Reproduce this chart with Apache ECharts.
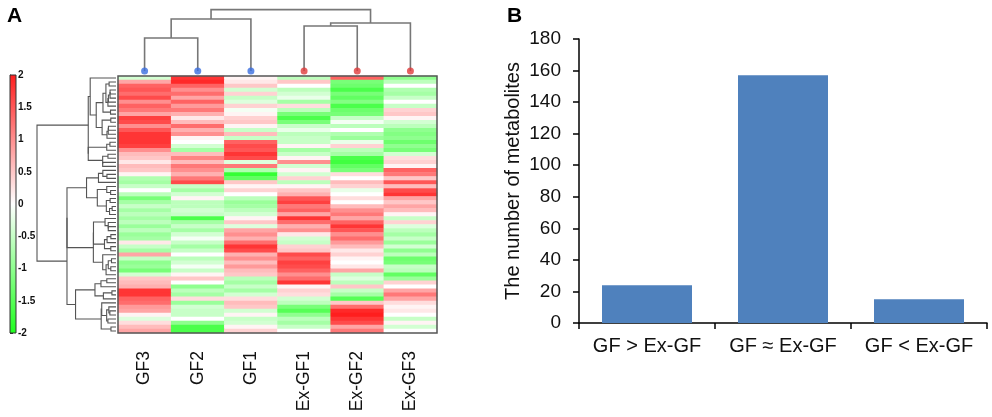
<!DOCTYPE html>
<html>
<head>
    <meta charset="UTF-8">
    <title>Metabolite heatmap and counts</title>
    <script src="https://cdn.jsdelivr.net/npm/echarts@6/dist/echarts.min.js"></script>
    <style>
        html, body { margin: 0; padding: 0; background: #fff; }
        #main { width: 992px; height: 417px; }
    </style>
</head>
<body>
    <div id="main"></div>
    <script>
        // ---- panel A: heatmap columns and clustering ----
        var colNames = ['GF3', 'GF2', 'GF1', 'Ex-GF1', 'Ex-GF2', 'Ex-GF3'];
        var colGroup = [0, 0, 0, 1, 1, 1];          // 0 = GF, 1 = Ex-GF
        var groupColors = ['#3a6ee0', '#e03b3b'];
        // column linkage: [childA, childB, height], ids >= 6 are earlier merges
        var colLinkage = [[0, 1, 33], [3, 4, 45], [6, 2, 52], [7, 5, 48], [8, 9, 61.4]];
        var colorRange = [-2, 2];

        // z-scores per sample, rows top to bottom
        var gf3 = [-0.4, 0.8, 1.4, 1.5, 1.3, 1.6, 1.0, 1.4, 1.2, 0.8, 1.7, 1.6, 1.0, 1.5, 1.8, 1.8,
            1.8, 1.7, 1.0, 0.6, 0.5, 0.2, 0.6, 0.5, 0.1, -0.7, -0.8, -0.5, 0, -0.6, -1.2, -0.8,
            -0.5, -0.8, -0.6, -0.8, -0.6, -0.9, -0.6, -0.9, -0.8, 0.2, -0.5, -0.8, 0.8, -0.5, -1.0, -0.9,
            -1.2, -0.4, 0.5, 0.6, 0.7, 1.8, 1.8, 1.4, 1.3, 0.9, 0.8, 0.1, -0.3, 0.3, 0.6, 0.8];
        var gf2 = [1.8, 1.9, 1.4, 1.0, 1.3, 0.8, 1.4, 0.9, 1.2, 0.7, 0.2, 0.6, 1.3, 0.7, 1.0, 0.1,
            0, -0.4, -0.8, 0.6, 1.1, 0.6, 1.2, 1.0, 0.7, 1.2, 1.6, -0.5, -0.8, -0.4, 0.1, -0.6,
            -0.6, -0.4, -0.5, -1.6, -0.8, -0.5, -0.8, -0.4, -0.1, -0.5, -0.8, -0.5, 0, -0.6, -0.4, -0.1,
            -0.5, 0.1, 0.5, 0, -1.0, -0.6, -0.8, 0.3, -0.9, -0.4, -0.5, -0.5, 0, -1.0, -1.6, -1.6];
        var gf1 = [0.1, 0.2, 0.5, -0.4, 0.4, -0.5, -0.3, 0.4, -0.1, 0.1, 0.4, 0.5, 0.1, -0.5, 0.6, -0.5,
            1.4, 1.6, 1.5, 1.8, 1.6, -0.3, 1.2, -0.7, -1.8, -1.4, 0.5, 0.1, 0.4, 0, -0.6, -0.9,
            -0.8, -0.6, -0.4, 0.1, 0.5, -0.3, 0.8, 1.0, 0.7, 1.3, 1.8, 1.6, 0.7, 1.0, 0.6, 0.9,
            0.6, 0.5, -0.6, -0.8, -0.5, -0.8, -0.4, 0.3, 0.6, 0.5, -0.4, 0.1, -0.5, -0.4, 0.1, 0.4];
        var exgf1 = [-0.6, 0.5, 0, -0.6, -0.4, -0.2, -0.8, 0.3, -0.6, -1.2, -1.6, -1.2, -0.5, -0.2, -0.6, -0.5,
            -0.5, 0.1, -0.8, -0.5, 0.1, 1.0, -0.4, 0.1, -0.4, 0.4, -0.6, 0.1, 0.5, 0.7, 1.5, 1.7,
            1.2, 1.4, 0.8, 1.8, 1.3, 0.7, 1.0, 0.2, -0.4, -0.5, 0.4, 0.5, 1.6, 1.4, 1.7, 1.6,
            1.4, 1.0, 1.3, 1.8, 0.1, 0.4, 0.3, -0.4, -0.6, -1.2, -1.5, -1.0, -0.6, -0.8, -0.5, 0];
        var exgf2 = [1.4, -1.2, -1.3, -1.6, -1.2, -1.4, -1.1, -1.6, -1.3, -1.2, -0.5, -0.1, -0.6, 0, -0.7, -0.9,
            -0.2, 0.4, -0.6, -0.8, -1.6, -1.7, -1.4, -1.2, 0.3, 0, 0.6, 0.4, -0.2, 0, 0.3, 0,
            0.6, 1.0, 1.2, 0.8, 1.4, 1.8, 1.5, 1.0, 1.3, 0.9, 0.6, 0.2, 0.4, 0.1, 0, 0.2,
            0.8, -0.5, -0.3, -0.6, 0.5, -0.5, -0.8, -1.5, 0.5, 1.3, 1.9, 2.0, 1.8, 1.6, 0.8, 1.2];
        var exgf3 = [-1.0, -0.6, 0, -0.7, -0.8, -0.5, 0, -0.5, 0.4, 0.5, 0.1, -0.4, -0.6, -1.0, -1.1, -1.0,
            -1.3, -1.0, -1.2, -0.4, 0.3, 0.4, 0.1, 1.4, 1.2, 0.5, 1.5, 0.6, 1.6, 1.8, 0.8, 0.5,
            0.8, 0.6, 0.1, -0.5, 0.4, -0.3, -0.6, -0.8, -0.5, -0.9, -0.4, -1.0, -0.6, -1.3, -1.2, -0.5,
            -0.6, -1.4, -0.9, 0.4, 0, 0.8, 1.2, 0.8, 0.3, 0.1, 0.2, 0, -0.5, 0.1, -0.4, 0];

        // ---- panel B: counts ----
        var barCats = ['GF > Ex-GF', 'GF \u2248 Ex-GF', 'GF < Ex-GF'];
        var barCounts = [24, 157, 15];
        var barTicks = { min: 0, max: 180, interval: 20 };

        var FONT = 'Liberation Sans, Arial, sans-serif';
        var cols = [gf3, gf2, gf1, exgf1, exgf2, exgf3];
        var nRows = gf3.length;
        var rowIds = gf3.map(function (v, i) { return String(i); });

        // heatmap cells
        var heatData = [];
        for (var r = 0; r < nRows; r++) {
            for (var c = 0; c < cols.length; c++) {
                heatData.push([c, r, cols[c][r]]);
            }
        }

        // column dendrogram segments from the linkage table
        var colNodes = colNames.map(function (n, i) { return { x: i + 0.5, h: 0 }; });
        var colSegs = colLinkage.map(function (l) {
            var a = colNodes[l[0]], b = colNodes[l[1]];
            colNodes.push({ x: (a.x + b.x) / 2, h: l[2] });
            return [a.x, a.h, b.x, b.h, l[2]];
        });

        // row dendrogram: Ward clustering restricted to neighbouring rows
        function rowClusters() {
            var cl = [];
            for (var i = 0; i < nRows; i++) {
                cl.push({ n: 1, c: cols.map(function (col) { return col[i]; }), y: i + 0.5, h: 0 });
            }
            var segs = [];
            while (cl.length > 1) {
                var best = 0, bd = Infinity;
                for (var j = 0; j < cl.length - 1; j++) {
                    var a = cl[j], b = cl[j + 1], s = 0;
                    for (var k = 0; k < a.c.length; k++) { var d = a.c[k] - b.c[k]; s += d * d; }
                    var w = Math.sqrt(2 * a.n * b.n / (a.n + b.n) * s);
                    if (w < bd) { bd = w; best = j; }
                }
                var A = cl[best], B = cl[best + 1];
                var h = Math.max(bd, A.h, B.h);
                segs.push([A.h, A.y, B.h, B.y, h]);
                var n = A.n + B.n;
                cl.splice(best, 2, {
                    n: n,
                    c: A.c.map(function (x, k) { return (x * A.n + B.c[k] * B.n) / n; }),
                    y: (A.y + B.y) / 2,
                    h: h
                });
            }
            return segs;
        }
        var rowSegs = rowClusters();

        var chart = echarts.init(document.getElementById('main'));
        var option = {
            backgroundColor: '#fff',
            animation: false,
            title: [
                { text: 'A', left: 7, top: 6, padding: 0, textStyle: { fontFamily: FONT, fontSize: 21, fontWeight: 'bold', color: '#000' } },
                { text: 'B', left: 507, top: 6, padding: 0, textStyle: { fontFamily: FONT, fontSize: 21, fontWeight: 'bold', color: '#000' } }
            ],
            visualMap: {
                type: 'continuous',
                show: false,
                min: colorRange[0],
                max: colorRange[1],
                seriesIndex: 0,
                dimension: 2,
                inRange: { color: ['#1eff1e', '#ffffff', '#ff1e1e'] }
            },
            grid: [
                { left: 118, width: 319, top: 76, height: 257, show: true, z: 10, borderColor: '#555', borderWidth: 1.5, backgroundColor: 'transparent' },
                { left: 118, width: 319, top: 5, height: 66 },
                { left: 37, width: 79, top: 76, height: 257 },
                { left: 10, width: 6, top: 75, height: 258 },
                { left: 579, right: 5, top: 39, height: 284 }
            ],
            xAxis: [
                {
                    gridIndex: 0, type: 'category', data: colNames,
                    axisLine: { show: false }, axisTick: { show: false },
                    axisLabel: { rotate: 90, margin: 18, fontSize: 17.5, fontFamily: FONT, color: '#111' }
                },
                { gridIndex: 1, type: 'value', min: 0, max: colNames.length, show: false },
                { gridIndex: 2, type: 'value', min: 0, max: 'dataMax', inverse: true, show: false },
                { gridIndex: 3, type: 'value', min: 0, max: 1, show: false },
                {
                    gridIndex: 4, type: 'category', data: barCats,
                    axisLine: { lineStyle: { color: '#000', width: 1.5 } },
                    axisTick: { show: true, length: 6, lineStyle: { color: '#000', width: 1.5 } },
                    axisLabel: { interval: 0, hideOverlap: false, margin: 13, fontSize: 20, fontFamily: FONT, color: '#111' }
                }
            ],
            yAxis: [
                { gridIndex: 0, type: 'category', data: rowIds, inverse: true, show: false },
                { gridIndex: 1, type: 'value', min: 0, max: 66, show: false },
                { gridIndex: 2, type: 'value', min: 0, max: nRows, inverse: true, show: false },
                {
                    gridIndex: 3, type: 'value', position: 'right',
                    min: colorRange[0], max: colorRange[1], interval: 0.5,
                    splitLine: { show: false },
                    axisLine: { show: true, lineStyle: { color: '#333', width: 1 } },
                    axisTick: { show: true, length: 3, lineStyle: { color: '#333' } },
                    axisLabel: { margin: 2, fontSize: 10, fontWeight: 'bold', fontFamily: FONT, color: '#111' }
                },
                {
                    gridIndex: 4, type: 'value',
                    min: barTicks.min, max: barTicks.max, interval: barTicks.interval,
                    splitLine: { show: false },
                    axisLine: { show: true, lineStyle: { color: '#000', width: 1.5 } },
                    axisTick: { show: true, length: 6, lineStyle: { color: '#000', width: 1.5 } },
                    axisLabel: { margin: 18, fontSize: 19, fontFamily: FONT, color: '#111' },
                    name: 'The number of metabolites',
                    nameLocation: 'middle',
                    nameGap: 56,
                    nameTextStyle: { fontSize: 20, fontFamily: FONT, color: '#111' }
                }
            ],
            series: [
                {
                    type: 'heatmap', xAxisIndex: 0, yAxisIndex: 0,
                    data: heatData,
                    itemStyle: { borderWidth: 0 }
                },
                {
                    type: 'custom', xAxisIndex: 1, yAxisIndex: 1,
                    data: colSegs,
                    encode: { x: [0, 2], y: [1, 3, 4] },
                    renderItem: function (params, api) {
                        var pts = [
                            api.coord([api.value(0), api.value(1)]),
                            api.coord([api.value(0), api.value(4)]),
                            api.coord([api.value(2), api.value(4)]),
                            api.coord([api.value(2), api.value(3)])
                        ];
                        return { type: 'polyline', shape: { points: pts }, style: { stroke: '#777', lineWidth: 1.6, fill: null } };
                    }
                },
                {
                    type: 'scatter', xAxisIndex: 1, yAxisIndex: 1,
                    symbolSize: 7,
                    data: colNames.map(function (n, i) { return [i + 0.5, 0]; }),
                    itemStyle: { color: function (p) { return groupColors[colGroup[p.dataIndex]]; } },
                    z: 5
                },
                {
                    type: 'custom', xAxisIndex: 2, yAxisIndex: 2,
                    data: rowSegs,
                    encode: { x: [0, 2, 4], y: [1, 3] },
                    renderItem: function (params, api) {
                        var pts = [
                            api.coord([api.value(0), api.value(1)]),
                            api.coord([api.value(4), api.value(1)]),
                            api.coord([api.value(4), api.value(3)]),
                            api.coord([api.value(2), api.value(3)])
                        ];
                        return { type: 'polyline', shape: { points: pts }, style: { stroke: '#555', lineWidth: 1.1, fill: null } };
                    }
                },
                {
                    type: 'custom', xAxisIndex: 3, yAxisIndex: 3,
                    data: [[0, colorRange[0], 1, colorRange[1]]],
                    encode: { x: [0, 2], y: [1, 3] },
                    renderItem: function (params, api) {
                        var lo = api.coord([api.value(0), api.value(1)]);
                        var hi = api.coord([api.value(2), api.value(3)]);
                        return {
                            type: 'rect',
                            shape: { x: lo[0], y: hi[1], width: hi[0] - lo[0], height: lo[1] - hi[1] },
                            style: {
                                fill: new echarts.graphic.LinearGradient(0, 0, 0, 1, [
                                    { offset: 0, color: '#ff1e1e' },
                                    { offset: 0.5, color: '#ffffff' },
                                    { offset: 1, color: '#1eff1e' }
                                ]),
                                stroke: '#333', lineWidth: 1
                            }
                        };
                    }
                },
                {
                    type: 'bar', xAxisIndex: 4, yAxisIndex: 4,
                    data: barCounts,
                    barWidth: 90,
                    itemStyle: { color: '#4f81bd' }
                }
            ]
        };
        chart.setOption(option);
    </script>
</body>
</html>
